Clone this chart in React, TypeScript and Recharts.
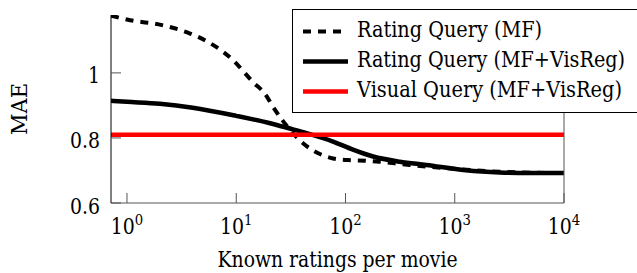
import React from "react";
import { LineChart, Line, XAxis, YAxis, Legend } from "recharts";

// Liberation Serif is not available here, so DejaVu Serif is squeezed to Times widths
const FONT = "'DejaVu Serif', serif";
const textStyle = { fontFamily: FONT };
const FS = 21.5;

// axis ranges
const xMin = 0.714;
const xMax = 10000;
const yMin = 0.6;
const yMax = 1.178;

// ticks
const majorTicksX = [1, 10, 100, 1000, 10000];
const minorTicksX = [
  0.8, 0.9, 2, 3, 4, 5, 6, 7, 8, 9, 20, 30, 40, 50, 60, 70, 80, 90,
  200, 300, 400, 500, 600, 700, 800, 900, 2000, 3000, 4000, 5000, 6000,
  7000, 8000, 9000,
];
const ticksY = [0.6, 0.8, 1];

const seriesNames = [
  "Rating Query (MF)",
  "Rating Query (MF+VisReg)",
  "Visual Query (MF+VisReg)",
];
const legendWidths = [185, 268, 265];

// Rating Query (MF)
const mfKnown = [
  0.714, 1.07, 2.09, 3.78, 5.4, 9.3, 14.3, 18.3, 21.7, 26.5, 42.5, 56.3, 77,
  105, 151, 205, 282, 386, 549, 1000, 2000, 5000, 10000,
];
const mfMae = [
  1.176, 1.162, 1.147, 1.121, 1.097, 1.04, 0.971, 0.936, 0.896, 0.854, 0.779,
  0.753, 0.737, 0.732, 0.73, 0.727, 0.722, 0.717, 0.712, 0.705, 0.698, 0.693,
  0.692,
];

// Rating Query (MF+VisReg)
const visRegKnown = [
  0.714, 1, 2, 4, 10, 20, 31, 44, 77, 117, 179, 314, 549, 1260, 2570, 4800,
  10000,
];
const visRegMae = [
  0.914, 0.911, 0.905, 0.893, 0.868, 0.846, 0.829, 0.815, 0.789, 0.764, 0.743,
  0.727, 0.717, 0.701, 0.694, 0.692, 0.692,
];

// Visual Query (MF+VisReg)
const visualKnown = [xMin, xMax];
const visualMae = [0.81, 0.81];

const toPoints = (xs: number[], ys: number[]) =>
  xs.map((x, i) => ({ x, y: ys[i] }));

const mfData = toPoints(mfKnown, mfMae);
const visRegData = toPoints(visRegKnown, visRegMae);
const visualData = toPoints(visualKnown, visualMae);

const styles = [
  { stroke: "#000", width: 4, dash: "8 7" },
  { stroke: "#000", width: 4.5, dash: undefined },
  { stroke: "#ff0000", width: 4.5, dash: undefined },
];

const XTick = (props: any) => {
  const { x, y, payload } = props;
  const exp = Math.round(Math.log10(payload.value));
  return (
    <text
      x={x - 16.25}
      y={y}
      style={textStyle}
      fontSize={FS}
      fill="#000"
      textLength={32.5}
      lengthAdjust="spacingAndGlyphs"
    >
      <tspan>10</tspan>
      <tspan dy={-9} fontSize={15}>
        {exp}
      </tspan>
    </text>
  );
};

const YTick = (props: any) => {
  const { x, y, payload } = props;
  const label = String(payload.value);
  const w = label.length === 1 ? 12 : 30;
  return (
    <text
      x={x - w}
      y={y}
      dy={10.5}
      style={textStyle}
      fontSize={FS}
      fill="#000"
      textLength={w}
      lengthAdjust="spacingAndGlyphs"
    >
      {label}
    </text>
  );
};

const LegendBox = () => (
  <svg width={345} height={104} style={{ display: "block", overflow: "hidden" }}>
    <rect x={0.5} y={0.5} width={352} height={103} fill="#fff" stroke="#000" strokeWidth={1} />
    {seriesNames.map((name, i) => {
      const cy = 22.5 + i * 30;
      return (
        <g key={name}>
          <line
            x1={11}
            x2={56}
            y1={cy}
            y2={cy}
            stroke={styles[i].stroke}
            strokeWidth={styles[i].width}
            strokeDasharray={styles[i].dash}
          />
          <text
            x={65}
            y={cy + 5}
            style={textStyle}
            fontSize={FS}
            fill="#000"
            textLength={legendWidths[i]}
            lengthAdjust="spacingAndGlyphs"
          >
            {name}
          </text>
        </g>
      );
    })}
  </svg>
);

export default function App() {
  const lineData = [mfData, visRegData, visualData];
  return (
    <div style={{ position: "absolute", left: 0, top: 0, width: 637, height: 273, background: "#fff", overflow: "hidden" }}>
      <LineChart width={637} height={273} margin={{ top: 15, right: 0, bottom: 0, left: 0 }}>
        <XAxis
          xAxisId="top"
          orientation="top"
          dataKey="x"
          type="number"
          scale="log"
          domain={[xMin, xMax]}
          allowDataOverflow
          ticks={majorTicksX}
          height={0}
          tick={false}
          tickSize={-10}
          axisLine={{ stroke: "#555" }}
          tickLine={{ stroke: "#555" }}
        />
        <XAxis
          xAxisId="topMinor"
          orientation="top"
          dataKey="x"
          type="number"
          scale="log"
          domain={[xMin, xMax]}
          allowDataOverflow
          ticks={minorTicksX}
          height={0}
          tick={false}
          tickSize={-6}
          axisLine={false}
          tickLine={{ stroke: "#555" }}
        />
        <XAxis
          xAxisId="minor"
          dataKey="x"
          type="number"
          scale="log"
          domain={[xMin, xMax]}
          allowDataOverflow
          ticks={minorTicksX}
          height={0}
          tick={false}
          tickSize={-6}
          axisLine={false}
          tickLine={{ stroke: "#555" }}
        />
        <XAxis
          xAxisId="main"
          dataKey="x"
          type="number"
          scale="log"
          domain={[xMin, xMax]}
          allowDataOverflow
          ticks={majorTicksX}
          height={70}
          tickSize={-10}
          tickMargin={41}
          tick={<XTick />}
          axisLine={{ stroke: "#555" }}
          tickLine={{ stroke: "#555" }}
          label={{
            content: (p: any) => {
              const vb = p.viewBox;
              const cx = vb.x + vb.width / 2;
              return (
                <text
                  x={cx - 120}
                  y={267}
                  style={textStyle}
                  fontSize={FS}
                  fill="#000"
                  textLength={240}
                  lengthAdjust="spacingAndGlyphs"
                >
                  Known ratings per movie
                </text>
              );
            },
          }}
        />
        <YAxis
          yAxisId="left"
          type="number"
          domain={[yMin, yMax]}
          allowDataOverflow
          ticks={ticksY}
          width={111}
          tickSize={-10}
          tickMargin={21}
          tick={<YTick />}
          axisLine={{ stroke: "#000" }}
          tickLine={{ stroke: "#555" }}
          label={{
            content: (p: any) => {
              const vb = p.viewBox;
              const cy = vb.y + vb.height / 2;
              return (
                <text
                  x={-26}
                  y={0}
                  transform={`translate(27, ${cy}) rotate(-90)`}
                  style={textStyle}
                  fontSize={FS}
                  fill="#000"
                  textLength={52}
                  lengthAdjust="spacingAndGlyphs"
                >
                  MAE
                </text>
              );
            },
          }}
        />
        <YAxis
          yAxisId="right"
          orientation="right"
          type="number"
          domain={[yMin, yMax]}
          allowDataOverflow
          ticks={ticksY}
          width={73}
          tick={false}
          tickSize={-10}
          axisLine={{ stroke: "#555" }}
          tickLine={{ stroke: "#555" }}
        />
        {lineData.map((d, i) => (
          <Line
            key={seriesNames[i]}
            name={seriesNames[i]}
            data={d}
            dataKey="y"
            xAxisId="main"
            yAxisId="left"
            type="monotone"
            stroke={styles[i].stroke}
            strokeWidth={styles[i].width}
            strokeDasharray={styles[i].dash}
            dot={false}
            activeDot={false}
            isAnimationActive={false}
          />
        ))}
        <Legend
          layout="vertical"
          verticalAlign="middle"
          align="center"
          wrapperStyle={{ left: 292, top: 9, width: 345 }}
          content={() => <LegendBox />}
        />
      </LineChart>
    </div>
  );
}
